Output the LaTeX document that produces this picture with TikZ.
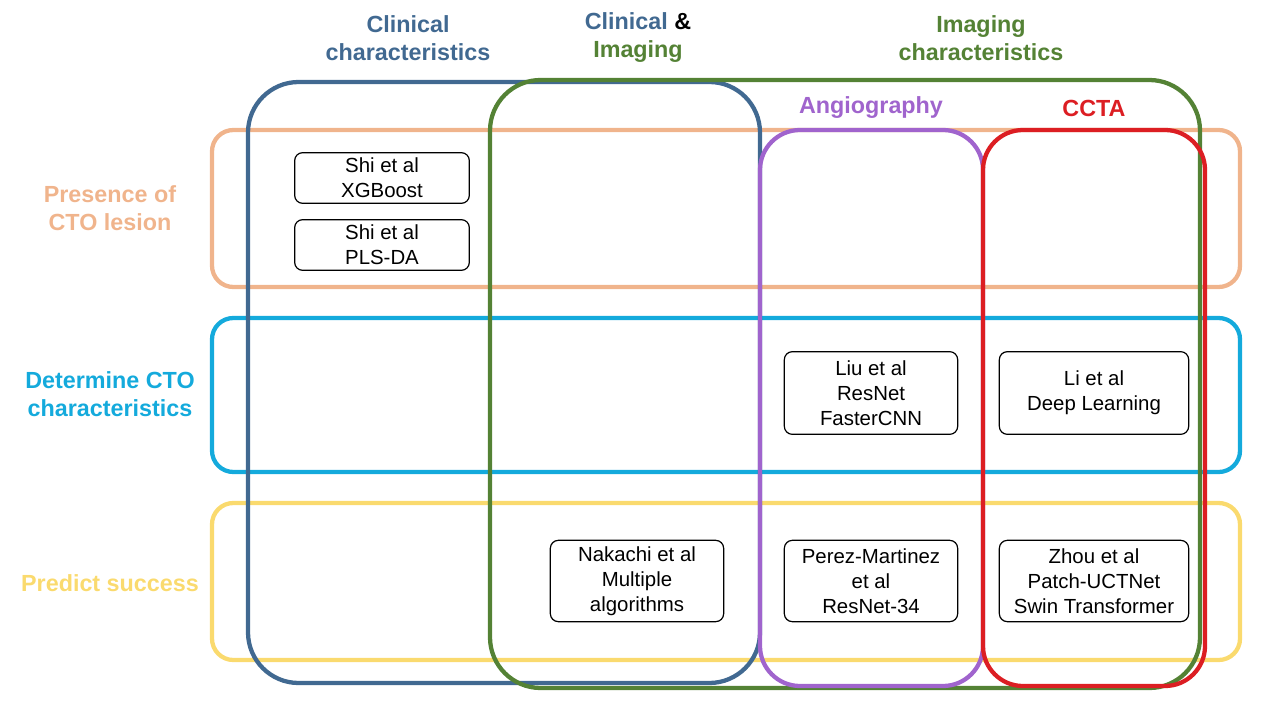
\documentclass[tikz,border=0pt]{standalone}
\usepackage{fontspec}
\setmainfont{Liberation Sans}
\usetikzlibrary{positioning}
\definecolor{clinblue}{RGB}{65,105,145}
\definecolor{imggreen}{RGB}{84,130,53}
\definecolor{angpurple}{RGB}{160,100,205}
\definecolor{cctared}{RGB}{220,30,35}
\definecolor{rowpeach}{RGB}{240,180,140}
\definecolor{rowcyan}{RGB}{20,170,220}
\definecolor{rowyellow}{RGB}{250,218,110}
\tikzset{
  group/.style={line width=3.2pt, rounded corners=38pt},
  row/.style={line width=3.2pt, rounded corners=16pt},
  study/.style={draw, rounded corners=6pt, line width=0.9pt, fill=white, align=center,
    font=\fontsize{15.3}{18.7}\selectfont, inner sep=0pt},
  head/.style={align=center, font=\bfseries\fontsize{17.5}{21}\selectfont}
}
\begin{document}
\begin{tikzpicture}[x=0.75pt,y=-0.75pt]
    \useasboundingbox (0,0) rectangle (1280,720);
    % rows
    \draw [row, rowpeach] (212,130) rectangle (1240,287);
    \draw [row, rowcyan] (212,318) rectangle (1240,472);
    \draw [row, rowyellow] (212,503) rectangle (1240,660);
    % columns
    \draw [group, clinblue] (248,82) rectangle (760,683);
    \draw [group, imggreen] (490,80) rectangle (1200,688);
    \draw [group, angpurple, rounded corners=30pt] (760,130) rectangle (983,686);
    \draw [group, cctared, rounded corners=30pt] (983,130) rectangle (1205,686);
    % headings
    \node [head, text=clinblue] (clin) at (408,38) {Clinical\\characteristics};
    \node [head] (both) at (638,38) {\textcolor{clinblue}{Clinical} \&\\\textcolor{imggreen}{Imaging}};
    \node [head, text=imggreen] (img) at (981,38) {Imaging\\characteristics};
    \node [head, text=angpurple] (angio) at (871,108) {Angiography};
    \node [head, text=cctared] (ccta) at (1094,108) {CCTA};
    \node [head, text=rowpeach] (presence) at (110,208) {Presence of\\CTO lesion};
    \node [head, text=rowcyan] (determine) at (110,394) {Determine CTO\\characteristics};
    \node [head, text=rowyellow] (predict) at (110,583) {Predict success};
    % studies
    \node [study, minimum width=131pt, minimum height=38pt] (xgb) at (382,178) {Shi et al\\XGBoost};
    \node [study, minimum width=131pt, minimum height=38pt] (pls) at (382,245) {Shi et al\\PLS-DA};
    \node [study, minimum width=130pt, minimum height=62pt] (liu) at (871,393) {Liu et al\\ResNet\\FasterCNN};
    \node [study, minimum width=142pt, minimum height=62pt] (li) at (1094,393) {Li et al\\Deep Learning};
    \node [study, minimum width=130pt, minimum height=61pt] (nakachi) at (637,581) {Nakachi et al\\Multiple\\algorithms};
    \node [study, minimum width=130pt, minimum height=61pt] (perez) at (871,581) {Perez-Martinez\\et al\\ResNet-34};
    \node [study, minimum width=142pt, minimum height=61pt] (zhou) at (1094,581) {Zhou et al\\Patch-UCTNet\\Swin Transformer};
\end{tikzpicture}
\end{document}
